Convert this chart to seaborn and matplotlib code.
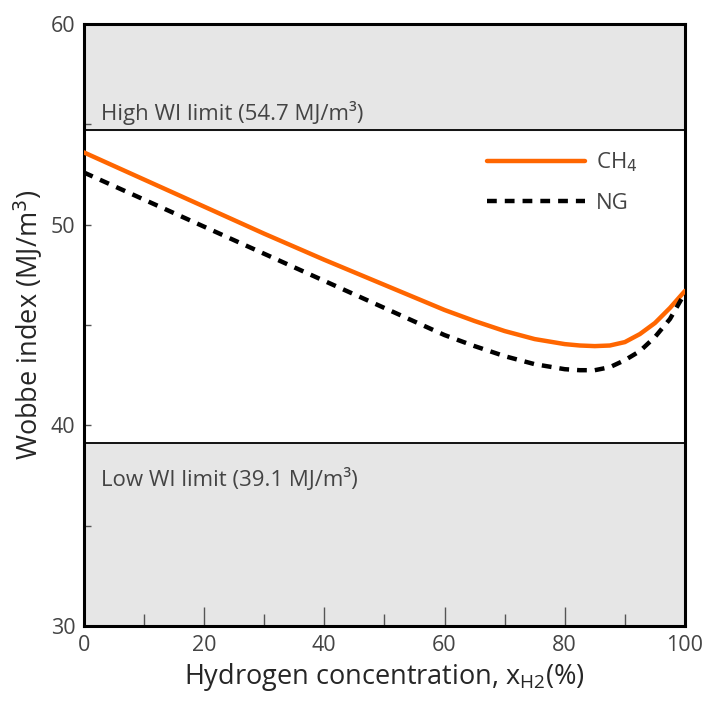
import numpy as np
import pandas as pd
import matplotlib
matplotlib.use("Agg")
import matplotlib.pyplot as plt
from matplotlib.ticker import MultipleLocator
import seaborn as sns

# Hydrogen concentration (%) and Wobbe index (MJ/m3)
h2 = [0, 10, 20, 30, 40, 50, 60, 65, 70, 75, 80, 82.5, 85, 87.5, 90, 92.5, 95, 97.5, 100]
wi_ch4 = [53.6, 52.25, 50.9, 49.55, 48.25, 47.0, 45.75, 45.2, 44.7, 44.3, 44.05,
          43.98, 43.95, 43.98, 44.15, 44.55, 45.1, 45.85, 46.7]
wi_ng = [52.6, 51.25, 49.9, 48.55, 47.2, 45.85, 44.5, 43.95, 43.45, 43.05, 42.8,
         42.75, 42.75, 42.9, 43.25, 43.7, 44.4, 45.3, 46.6]

high_limit = 54.7
low_limit = 39.1

df = pd.DataFrame({"h2": h2 * 2,
                   "wi": wi_ch4 + wi_ng,
                   "fuel": ["CH$_4$"] * len(h2) + ["NG"] * len(h2)})

sns.set_style("ticks")
plt.rcParams['font.family'] = ['Open Sans', 'DejaVu Sans']

fig = plt.figure(figsize=(7.04, 7.02), dpi=100)
ax = fig.add_axes([0.119, 0.108, 0.854, 0.858])

# grey bands outside the WI limits
ax.axhspan(high_limit, 60, color='#e6e6e6', zorder=0)
ax.axhspan(30, low_limit, color='#e6e6e6', zorder=0)
ax.axhline(high_limit, color='black', lw=1.3, zorder=1)
ax.axhline(low_limit, color='black', lw=1.3, zorder=1)

sns.lineplot(data=df, x="h2", y="wi", hue="fuel", style="fuel",
             palette={"CH$_4$": "#ff6600", "NG": "black"},
             dashes={"CH$_4$": "", "NG": (2.2, 1.8)},
             lw=3.2, ax=ax, zorder=3)

ax.set_xlim(0, 100)
ax.set_ylim(30, 60)
ax.xaxis.set_major_locator(MultipleLocator(20))
ax.xaxis.set_minor_locator(MultipleLocator(10))
ax.yaxis.set_major_locator(MultipleLocator(10))
ax.yaxis.set_minor_locator(MultipleLocator(5))
ax.tick_params(axis='x', which='major', direction='in', length=14, width=1, color='#555555',
               labelsize=15.5, labelcolor='#444444', pad=6)
ax.tick_params(axis='x', which='minor', direction='in', length=9, width=1, color='#555555')
ax.tick_params(axis='y', which='both', direction='in', length=5, width=1, color='#555555',
               labelsize=15.5, labelcolor='#444444', pad=6)
for s in ax.spines.values():
    s.set_linewidth(2.2)
    s.set_color('black')

ax.set_xlabel("Hydrogen concentration, x$_{\\mathregular{H2}}$(%)", fontsize=19.5, labelpad=4)
ax.set_ylabel("Wobbe index (MJ/m$^3$)", fontsize=19.5, labelpad=4)

ax.text(2.8, 55.2, "High WI limit (54.7 MJ/m³)", fontsize=16, color='#444444')
ax.text(2.8, 37.0, "Low WI limit (39.1 MJ/m³)", fontsize=16, color='#444444')

leg = ax.legend(loc='upper right', bbox_to_anchor=(0.955, 0.823), frameon=False,
                fontsize=16, handlelength=4.4, labelspacing=0.85, handletextpad=0.5)
for t in leg.get_texts():
    t.set_color('#444444')

fig.savefig("out.png", dpi=100)
